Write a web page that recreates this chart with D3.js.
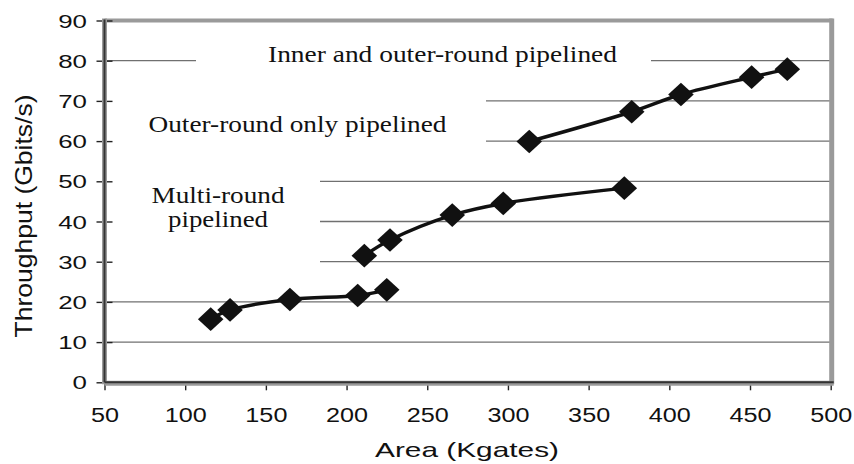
<!DOCTYPE html>
<html>
<head>
<meta charset="utf-8">
<script src="https://cdn.jsdelivr.net/npm/d3@7"></script>
<style>
  html, body { margin: 0; padding: 0; background: #fff; }
  svg { display: block; }
</style>
</head>
<body>
<svg id="chart" width="854" height="464"></svg>
<script>
// Throughput versus area for three pipelining strategies
const xTicks = [50, 100, 150, 200, 250, 300, 350, 400, 450, 500];
const yTicks = [0, 10, 20, 30, 40, 50, 60, 70, 80, 90];

const multiArea = [115.8, 127.8, 164.9, 206.9, 224.9];
const multiThroughput = [15.7, 18.0, 20.6, 21.6, 23.0];

const outerArea = [211.0, 226.9, 265.5, 297.1, 372.1];
const outerThroughput = [31.5, 35.4, 41.6, 44.5, 48.3];

const innerArea = [313.2, 376.7, 407.2, 451.0, 473.1];
const innerThroughput = [59.9, 67.3, 71.6, 75.9, 77.9];

const seriesNames = ["Multi-round pipelined", "Outer-round only pipelined", "Inner and outer-round pipelined"];

const svg = d3.select("#chart");
const x = d3.scaleLinear().domain([50, 500]).range([104.5, 830.7]);
const y = d3.scaleLinear().domain([0, 90]).range([382.3, 20.5]);

// horizontal gridlines
const grid = svg.append("g");
grid.selectAll("line").data(yTicks.filter(v => v > 0 && v < 90)).join("line")
  .attr("x1", x(50)).attr("x2", x(500))
  .attr("y1", d => y(d)).attr("y2", d => y(d))
  .attr("stroke", "#707070").attr("stroke-width", 1.3);

// label boxes (opaque, hide the gridlines behind the text)
const boxes = [
  { x0: 196, x1: 651, y0: 34, y1: 84 },
  { x0: 106, x1: 486, y0: 86, y1: 160 },
  { x0: 106, x1: 320, y0: 166, y1: 272 }
];
svg.append("g").selectAll("rect").data(boxes).join("rect")
  .attr("x", d => d.x0).attr("y", d => d.y0)
  .attr("width", d => d.x1 - d.x0).attr("height", d => d.y1 - d.y0)
  .attr("fill", "#fff");

// annotation text
const notes = [
  { lines: [seriesNames[2]], cx: 442.5, y: 62, w: 349 },
  { lines: [seriesNames[1]], cx: 297.5, y: 131.5, w: 298 },
  { lines: ["Multi-round", "pipelined"], cx: 218, y: 203, w: 133, w2: 100 }
];
const noteG = svg.append("g")
  .attr("font-family", "'Liberation Serif', 'Times New Roman', serif")
  .attr("font-size", 22.5).attr("fill", "#111");
notes.forEach(n => {
  n.lines.forEach((t, i) => {
    noteG.append("text")
      .attr("x", n.cx).attr("y", n.y + i * 24)
      .attr("text-anchor", "middle")
      .attr("textLength", i === 0 ? n.w : n.w2)
      .attr("lengthAdjust", "spacingAndGlyphs")
      .text(t);
  });
});

// plot frame: top and right edges
svg.append("line").attr("x1", x(50)).attr("x2", x(500) + 2)
  .attr("y1", y(90)).attr("y2", y(90))
  .attr("stroke", "#9a9a9a").attr("stroke-width", 4);
svg.append("line").attr("x1", x(500) + 1).attr("x2", x(500) + 1)
  .attr("y1", y(90) - 2).attr("y2", y(0) + 2)
  .attr("stroke", "#9a9a9a").attr("stroke-width", 5);

// y axis
const yAxis = svg.append("g").attr("transform", `translate(${x(50)},0)`)
  .call(d3.axisLeft(y).tickValues(yTicks).tickSize(8).tickFormat(d3.format("d")));
yAxis.select(".domain").remove();
yAxis.selectAll(".tick line").attr("x1", 8).attr("x2", -8)
  .attr("stroke", "#222").attr("stroke-width", 1.4);
yAxis.selectAll(".tick text")
  .attr("x", 0).attr("dy", "0.36em")
  .attr("transform", "translate(-17.5,0) scale(1.4,1)")
  .attr("font-family", "'Liberation Sans', Arial, sans-serif")
  .attr("font-size", 18.5).attr("fill", "#111");

// x axis
const xAxis = svg.append("g").attr("transform", `translate(0,${y(0)})`)
  .call(d3.axisBottom(x).tickValues(xTicks).tickSize(8).tickFormat(d3.format("d")));
xAxis.select(".domain").remove();
xAxis.selectAll(".tick line").attr("stroke", "#222").attr("stroke-width", 1.4);
xAxis.selectAll(".tick text")
  .attr("y", 0).attr("dy", 0)
  .attr("transform", "translate(0,39.5) scale(1.2,1)")
  .attr("font-family", "'Liberation Sans', Arial, sans-serif")
  .attr("font-size", 21).attr("fill", "#111");

// axis lines: grey band with a dark core
svg.append("line").attr("x1", x(50)).attr("x2", x(50))
  .attr("y1", y(90) - 2).attr("y2", y(0) + 2)
  .attr("stroke", "#9a9a9a").attr("stroke-width", 5);
svg.append("line").attr("x1", x(50)).attr("x2", x(500) + 3)
  .attr("y1", y(0) + 1).attr("y2", y(0) + 1)
  .attr("stroke", "#9a9a9a").attr("stroke-width", 5);
svg.append("line").attr("x1", x(50)).attr("x2", x(50))
  .attr("y1", y(90) - 1).attr("y2", y(0))
  .attr("stroke", "#333").attr("stroke-width", 2);
svg.append("line").attr("x1", x(50)).attr("x2", x(500) + 3)
  .attr("y1", y(0)).attr("y2", y(0))
  .attr("stroke", "#333").attr("stroke-width", 2);

// axis titles
svg.append("text")
  .attr("x", 467).attr("y", 457)
  .attr("text-anchor", "middle")
  .attr("textLength", 184).attr("lengthAdjust", "spacingAndGlyphs")
  .attr("font-family", "'Liberation Sans', Arial, sans-serif")
  .attr("font-size", 21).attr("fill", "#111")
  .text("Area (Kgates)");
svg.append("text")
  .attr("transform", "translate(32,216) rotate(-90)")
  .attr("text-anchor", "middle")
  .attr("textLength", 243).attr("lengthAdjust", "spacingAndGlyphs")
  .attr("font-family", "'Liberation Sans', Arial, sans-serif")
  .attr("font-size", 24).attr("fill", "#111")
  .text("Throughput (Gbits/s)");

// series: smoothed lines with diamond markers
const series = [
  { xs: multiArea, ys: multiThroughput },
  { xs: outerArea, ys: outerThroughput },
  { xs: innerArea, ys: innerThroughput }
];
const line = d3.line().x(d => x(d[0])).y(d => y(d[1])).curve(d3.curveCatmullRom.alpha(0.5));
const diamond = d3.symbol().type(d3.symbolSquare).size(280);
series.forEach(s => {
  const pts = s.xs.map((v, i) => [v, s.ys[i]]);
  svg.append("path").datum(pts)
    .attr("d", line).attr("fill", "none")
    .attr("stroke", "#111").attr("stroke-width", 3.5);
  svg.append("g").selectAll("path").data(pts).join("path")
    .attr("d", diamond)
    .attr("transform", d => `translate(${x(d[0])},${y(d[1])}) scale(1.08,1) rotate(45)`)
    .attr("fill", "#111");
});
</script>
</body>
</html>
